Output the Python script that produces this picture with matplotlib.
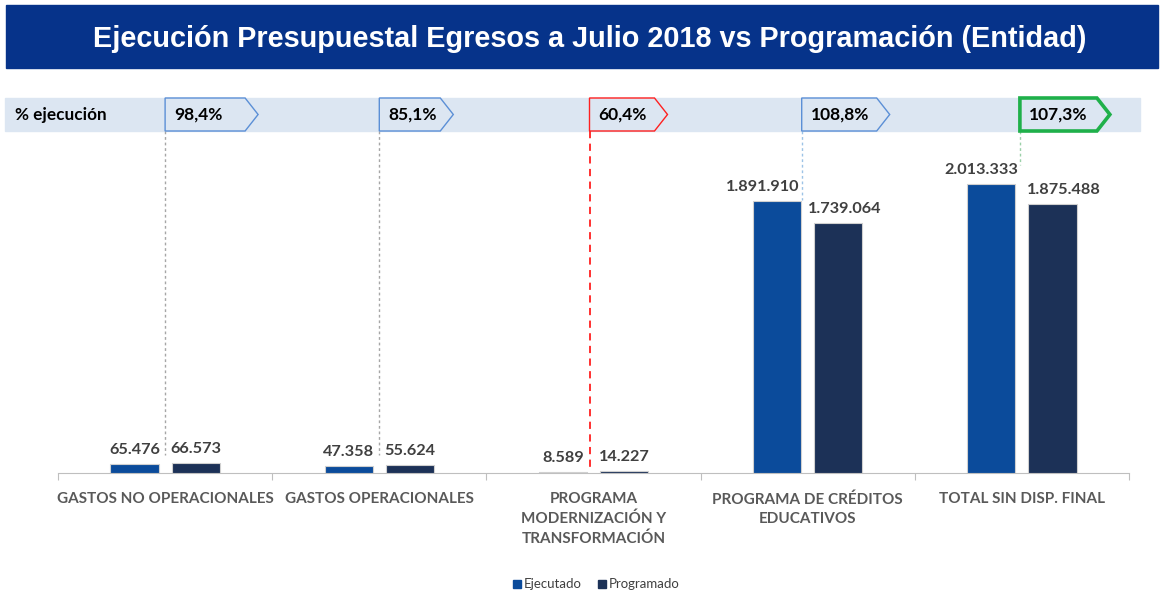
import matplotlib
matplotlib.use("Agg")
import matplotlib.pyplot as plt
from matplotlib.patches import Rectangle, Polygon
from matplotlib.transforms import blended_transform_factory
import numpy as np

# ---- data ----
categories = ["GASTOS NO OPERACIONALES", "GASTOS OPERACIONALES",
              "PROGRAMA\nMODERNIZACIÓN Y\nTRANSFORMACIÓN",
              "PROGRAMA DE CRÉDITOS\nEDUCATIVOS", "TOTAL SIN DISP. FINAL"]
ejecutado = [65476, 47358, 8589, 1891910, 2013333]
programado = [66573, 55624, 14227, 1739064, 1875488]
pct_labels = ["98,4%", "85,1%", "60,4%", "108,8%", "107,3%"]
series_names = ["Ejecutado", "Programado"]

# ---- style ----
W, H = 1164, 599
C_EJE = "#0b4b9b"
C_PRO = "#1c3157"
C_BANNER = "#06338a"
C_BAND = "#dce6f2"
C_TEXT = "#404040"
C_CAT = "#595959"
call_edges = ["#5b8fd6", "#5b8fd6", "#ff2020", "#5b8fd6", "#1fb04a"]
call_lw = [1.0, 1.0, 1.0, 1.0, 2.6]
call_width_px = [93, 74, 78, 88, 90]
call_dx_px = [0, 0, -4, -6, -2]
conn_colors = ["#a6a6a6", "#a6a6a6", "#ff2020", "#9dc3e6", "#9ad0a8"]
conn_styles = [(0, (2, 2)), (0, (2, 2)), (0, (4, 3)), (0, (2, 2)), (0, (2, 2))]
label_dx_px = [[0, 0], [0, 0], [0, 0], [-14, 6], [-10, 11]]

FONT = "Lato"

fig = plt.figure(figsize=(W / 100, H / 100), dpi=100)


def fx(px):
    return px / W


def fy(py):
    return 1 - py / H


# title banner
fig.patches.append(Rectangle((fx(6), fy(68)), fx(1152), fy(5) - fy(68),
                             transform=fig.transFigure, color=C_BANNER, zorder=0))
fig.text(fx(590), fy(39), "Ejecución Presupuestal Egresos a Julio 2018 vs Programación (Entidad)",
         ha="center", va="center", color="white", fontsize=20.8, fontweight="bold",
         family="Liberation Sans")

# execution band
band_top, band_bot = 98, 131
fig.patches.append(Rectangle((fx(5), fy(band_bot)), fx(1135), fy(band_top) - fy(band_bot),
                             transform=fig.transFigure, color=C_BAND, zorder=0))
fig.text(fx(15), fy(115), "% ejecución", ha="left", va="center", fontsize=12.3,
         fontweight="bold", family=FONT, color="black")

# main axes
ax_left, ax_right, ax_top, ax_bot = 58, 1129, 150, 473
ax = fig.add_axes([fx(ax_left), fy(ax_bot), fx(ax_right - ax_left), fy(ax_top) - fy(ax_bot)])
ax.set_xlim(-0.5, len(categories) - 0.5)
ymax = 2250000
ax.set_ylim(0, ymax)

x = np.arange(len(categories))
bw = 0.225
off = 0.143
ax.bar(x - off, ejecutado, bw, color=C_EJE, edgecolor="#d0d0d0", linewidth=0.8, zorder=3)
ax.bar(x + off, programado, bw, color=C_PRO, edgecolor="#d0d0d0", linewidth=0.8, zorder=3)

for i in range(len(categories)):
    for j, (vals, sgn) in enumerate([(ejecutado, -1), (programado, 1)]):
        v = vals[i]
        txt = f"{v:,}".replace(",", ".")
        ax.annotate(txt, (x[i] + sgn * off, v), xytext=(label_dx_px[i][j] * 0.72, 5),
                    textcoords="offset points", ha="center", va="bottom",
                    fontsize=11.7, fontweight="bold", family=FONT, color=C_TEXT, zorder=5)

for s in ["top", "right", "left"]:
    ax.spines[s].set_visible(False)
ax.spines["bottom"].set_color("#bfbfbf")
ax.set_yticks([])
ax.set_xticks(np.arange(-0.5, len(categories)), labels=[])
ax.tick_params(axis="x", direction="out", length=5, color="#bfbfbf")

for i, c in enumerate(categories):
    ax.text(x[i], -0.06, c, transform=blended_transform_factory(ax.transData, ax.transAxes),
            ha="center", va="top", fontsize=11, fontweight="bold", family=FONT,
            color=C_CAT, linespacing=1.45)

# callouts and connectors
bt = blended_transform_factory(ax.transData, fig.transFigure)
px_per_unit = (ax_right - ax_left) / len(categories)
label_top_px = [455, 455, 471, 200, 165]
for i in range(len(categories)):
    xl = x[i] + call_dx_px[i] / px_per_unit
    w = call_width_px[i] / px_per_unit
    tip = 13 / px_per_unit
    pts = [(xl, fy(band_top)), (xl + w - tip, fy(band_top)), (xl + w, fy((band_top + band_bot) / 2)),
           (xl + w - tip, fy(band_bot)), (xl, fy(band_bot))]
    poly = Polygon(pts, closed=True, transform=bt, facecolor=C_BAND, edgecolor=call_edges[i],
                   linewidth=call_lw[i], clip_on=False, zorder=6)
    fig.patches.append(poly)
    fig.text(xl + 9 / px_per_unit, fy(115), pct_labels[i], transform=bt, ha="left",
             va="center", fontsize=12.5, fontweight="bold", family=FONT, color="black", zorder=8)
    fig.lines.append(plt.Line2D([xl, xl], [fy(band_bot), fy(label_top_px[i])], transform=bt,
                                color=conn_colors[i], linewidth=1.0 if i != 2 else 1.3,
                                linestyle=conn_styles[i], zorder=1))

# legend
leg_y = 584
for px, name, col in [(513, series_names[0], C_EJE), (598, series_names[1], C_PRO)]:
    fig.patches.append(Rectangle((fx(px), fy(leg_y + 4)), fx(8), fy(leg_y - 4) - fy(leg_y + 4),
                                 transform=fig.transFigure, color=col))
    fig.text(fx(px + 11), fy(leg_y), name, ha="left", va="center", fontsize=9.5,
             family=FONT, color=C_TEXT)

fig.savefig("out.png", dpi=100)
